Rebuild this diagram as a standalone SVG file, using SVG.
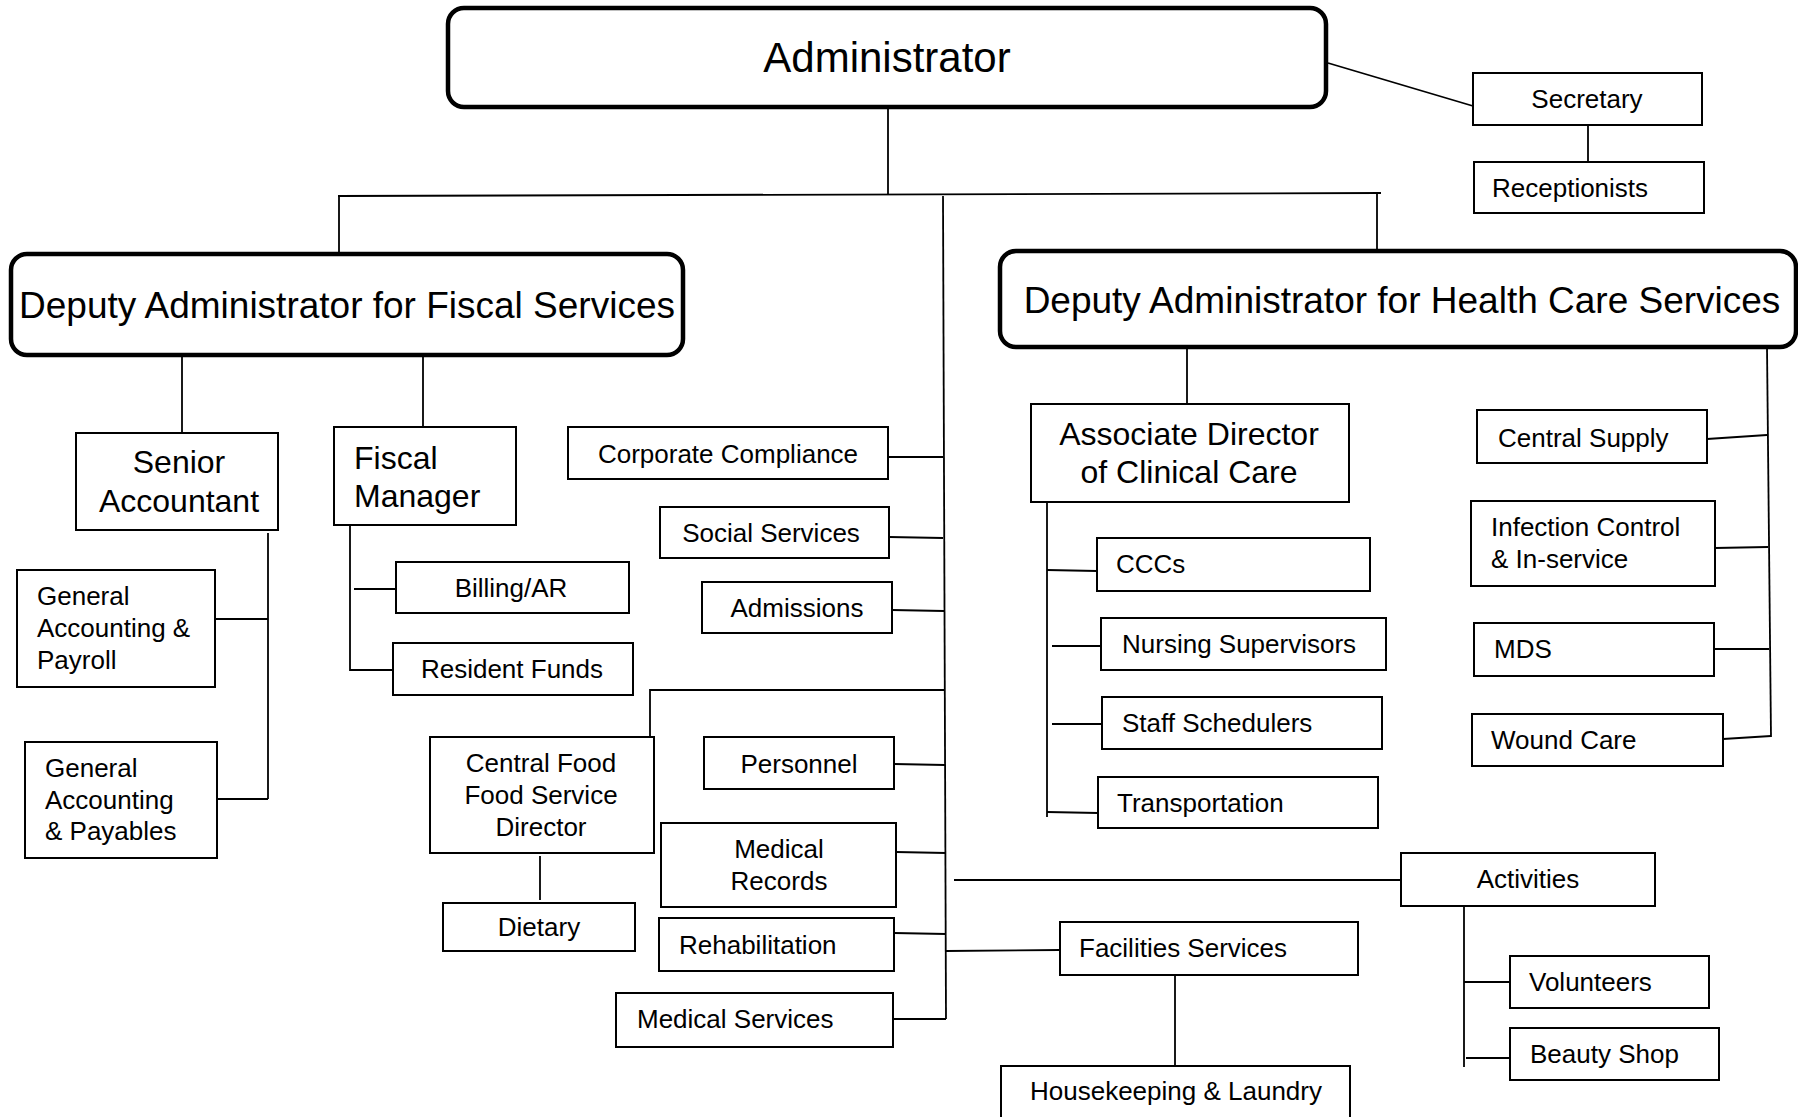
<svg xmlns="http://www.w3.org/2000/svg" width="1798" height="1117" viewBox="0 0 1798 1117">
<style>
.big{fill:#fff;stroke:#000;stroke-width:4.5}
.box{fill:#fff;stroke:#000;stroke-width:2}
.conn line,.conn polyline{stroke:#000;stroke-width:1.8;fill:none}
text{font-family:"Liberation Sans",Arial,sans-serif;fill:#000}
.t26{font-size:26px}
.t32{font-size:32px}
.t37{font-size:37px}
.c{text-anchor:middle}
</style>
<rect width="1798" height="1117" fill="#fff"/>
<g class="conn">
<line x1="888" y1="107" x2="888" y2="194"/>
<line x1="338" y1="196" x2="1381" y2="193"/>
<line x1="339" y1="196" x2="339" y2="254"/>
<line x1="1377" y1="193" x2="1377" y2="251"/>
<line x1="943" y1="196" x2="946" y2="1019"/>
<line x1="1328" y1="63" x2="1473" y2="106"/>
<line x1="1588" y1="125" x2="1588" y2="162"/>
<line x1="182" y1="355" x2="182" y2="433"/>
<line x1="423" y1="355" x2="423" y2="427"/>
<polyline points="268,533 268,799"/>
<line x1="215" y1="619" x2="268" y2="619"/>
<line x1="217" y1="799" x2="268" y2="799"/>
<polyline points="350,525 350,670 393,670"/>
<line x1="354" y1="589" x2="396" y2="589"/>
<line x1="888" y1="457" x2="943" y2="457"/>
<line x1="889" y1="537" x2="943" y2="538"/>
<line x1="892" y1="610" x2="944" y2="611"/>
<polyline points="650,737 650,690 944,690"/>
<line x1="894" y1="764" x2="945" y2="765"/>
<line x1="896" y1="852" x2="946" y2="853"/>
<line x1="894" y1="933" x2="946" y2="934"/>
<line x1="893" y1="1019" x2="946" y2="1019"/>
<line x1="540" y1="856" x2="540" y2="900"/>
<line x1="954" y1="880" x2="1401" y2="880"/>
<line x1="946" y1="951" x2="1060" y2="950"/>
<line x1="1175" y1="975" x2="1175" y2="1066"/>
<line x1="1464" y1="907" x2="1464" y2="1067"/>
<line x1="1464" y1="982" x2="1510" y2="982"/>
<line x1="1466" y1="1058" x2="1510" y2="1058"/>
<line x1="1187" y1="347" x2="1187" y2="404"/>
<line x1="1047" y1="502" x2="1047" y2="817"/>
<line x1="1047" y1="570" x2="1097" y2="571"/>
<line x1="1052" y1="646" x2="1101" y2="646"/>
<line x1="1052" y1="724" x2="1102" y2="724"/>
<line x1="1047" y1="812" x2="1098" y2="813"/>
<line x1="1767" y1="347" x2="1771" y2="737"/>
<line x1="1707" y1="439" x2="1767" y2="435"/>
<line x1="1715" y1="548" x2="1768" y2="547"/>
<line x1="1714" y1="649" x2="1769" y2="649"/>
<line x1="1723" y1="739" x2="1771" y2="736"/>
</g>
<g id="administrator"><rect class="big" x="448" y="8" width="878" height="99" rx="16"/><text class="c" x="887" y="72" font-size="42">Administrator</text></g>
<g id="secretary"><rect class="box" x="1473" y="73" width="229" height="52"/><text class="t26 c" x="1587" y="108">Secretary</text></g>
<g id="receptionists"><rect class="box" x="1474" y="162" width="230" height="51"/><text class="t26" x="1492" y="197">Receptionists</text></g>
<g id="dep-fiscal"><rect class="big" x="11" y="254" width="672" height="101" rx="16"/><text class="t37 c" x="347" y="318">Deputy Administrator for Fiscal Services</text></g>
<g id="dep-health"><rect class="big" x="1000" y="251" width="796" height="96" rx="16"/><text class="t37 c" x="1402" y="313">Deputy Administrator for Health Care Services</text></g>
<g id="senior-accountant"><rect class="box" x="76" y="433" width="202" height="97"/><text class="t32 c" x="179" y="473">Senior</text><text class="t32 c" x="179" y="512">Accountant</text></g>
<g id="fiscal-manager"><rect class="box" x="334" y="427" width="182" height="98"/><text class="t32" x="354" y="469">Fiscal</text><text class="t32" x="354" y="507">Manager</text></g>
<g id="ga-payroll"><rect class="box" x="17" y="570" width="198" height="117"/><text class="t26" x="37" y="605">General</text><text class="t26" x="37" y="637">Accounting &amp;</text><text class="t26" x="37" y="669">Payroll</text></g>
<g id="ga-payables"><rect class="box" x="25" y="742" width="192" height="116"/><text class="t26" x="45" y="777">General</text><text class="t26" x="45" y="809">Accounting</text><text class="t26" x="45" y="840">&amp; Payables</text></g>
<g id="billing"><rect class="box" x="396" y="562" width="233" height="51"/><text class="t26 c" x="511" y="597">Billing/AR</text></g>
<g id="resident-funds"><rect class="box" x="393" y="643" width="240" height="52"/><text class="t26 c" x="512" y="678">Resident Funds</text></g>
<g id="corporate-compliance"><rect class="box" x="568" y="427" width="320" height="52"/><text class="t26 c" x="728" y="463">Corporate Compliance</text></g>
<g id="social-services"><rect class="box" x="660" y="507" width="229" height="51"/><text class="t26 c" x="771" y="542">Social Services</text></g>
<g id="admissions"><rect class="box" x="702" y="582" width="190" height="51"/><text class="t26 c" x="797" y="617">Admissions</text></g>
<g id="central-food"><rect class="box" x="430" y="737" width="224" height="116"/><text class="t26 c" x="541" y="772">Central Food</text><text class="t26 c" x="541" y="804">Food Service</text><text class="t26 c" x="541" y="836">Director</text></g>
<g id="dietary"><rect class="box" x="443" y="903" width="192" height="48"/><text class="t26 c" x="539" y="936">Dietary</text></g>
<g id="personnel"><rect class="box" x="704" y="737" width="190" height="52"/><text class="t26 c" x="799" y="773">Personnel</text></g>
<g id="medical-records"><rect class="box" x="661" y="823" width="235" height="84"/><text class="t26 c" x="779" y="858">Medical</text><text class="t26 c" x="779" y="890">Records</text></g>
<g id="rehabilitation"><rect class="box" x="659" y="918" width="235" height="53"/><text class="t26" x="679" y="954">Rehabilitation</text></g>
<g id="medical-services"><rect class="box" x="616" y="993" width="277" height="54"/><text class="t26" x="637" y="1028">Medical Services</text></g>
<g id="assoc-director"><rect class="box" x="1031" y="404" width="318" height="98"/><text class="t32 c" x="1189" y="445">Associate Director</text><text class="t32 c" x="1189" y="483">of Clinical Care</text></g>
<g id="cccs"><rect class="box" x="1097" y="538" width="273" height="53"/><text class="t26" x="1116" y="573">CCCs</text></g>
<g id="nursing-supervisors"><rect class="box" x="1101" y="618" width="285" height="52"/><text class="t26" x="1122" y="653">Nursing Supervisors</text></g>
<g id="staff-schedulers"><rect class="box" x="1102" y="697" width="280" height="52"/><text class="t26" x="1122" y="732">Staff Schedulers</text></g>
<g id="transportation"><rect class="box" x="1098" y="777" width="280" height="51"/><text class="t26" x="1117" y="812">Transportation</text></g>
<g id="central-supply"><rect class="box" x="1477" y="410" width="230" height="53"/><text class="t26" x="1498" y="447">Central Supply</text></g>
<g id="infection-control"><rect class="box" x="1471" y="501" width="244" height="85"/><text class="t26" x="1491" y="536">Infection Control</text><text class="t26" x="1491" y="568">&amp; In-service</text></g>
<g id="mds"><rect class="box" x="1474" y="623" width="240" height="53"/><text class="t26" x="1494" y="658">MDS</text></g>
<g id="wound-care"><rect class="box" x="1472" y="714" width="251" height="52"/><text class="t26" x="1491" y="749">Wound Care</text></g>
<g id="activities"><rect class="box" x="1401" y="853" width="254" height="53"/><text class="t26 c" x="1528" y="888">Activities</text></g>
<g id="facilities"><rect class="box" x="1060" y="922" width="298" height="53"/><text class="t26" x="1079" y="957">Facilities Services</text></g>
<g id="housekeeping"><rect class="box" x="1001" y="1066" width="349" height="70"/><text class="t26 c" x="1176" y="1100">Housekeeping &amp; Laundry</text></g>
<g id="volunteers"><rect class="box" x="1510" y="956" width="199" height="52"/><text class="t26" x="1529" y="991">Volunteers</text></g>
<g id="beauty-shop"><rect class="box" x="1510" y="1028" width="209" height="52"/><text class="t26" x="1530" y="1063">Beauty Shop</text></g>
</svg>
